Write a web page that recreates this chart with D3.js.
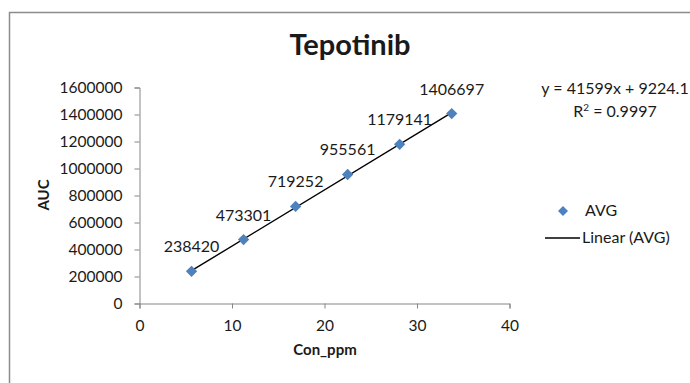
<!DOCTYPE html>
<html>
<head>
<meta charset="utf-8">
<script src="https://cdn.jsdelivr.net/npm/d3@7"></script>
<style>
  html, body { margin: 0; padding: 0; background: #fff; }
  svg { display: block; }
  text { font-family: Lato, "Open Sans", sans-serif; fill: #1a1a1a; }
</style>
</head>
<body>
<svg id="chart" width="690" height="383"></svg>
<script>
// Calibration data: concentration (ppm) vs mean peak area
const concPpm = [5.625, 11.25, 16.875, 22.5, 28.125, 33.75];
const aucAvg = [238420, 473301, 719252, 955561, 1179141, 1406697];
const xTicks = [0, 10, 20, 30, 40];
const yTicks = [0, 200000, 400000, 600000, 800000, 1000000, 1200000, 1400000, 1600000];
// Fitted linear trendline
const slope = 41599;
const intercept = 9224.1;
const rSquared = "0.9997";

const svg = d3.select("#chart");

// Outer chart frame
svg.append("rect")
  .attr("x", 9.5).attr("y", 12.5)
  .attr("width", 700).attr("height", 400)
  .attr("fill", "none").attr("stroke", "#8c8c8c").attr("stroke-width", 1.5);

const x = d3.scaleLinear().domain([0, 40]).range([139.5, 509.5]);
const y = d3.scaleLinear().domain([0, 1600000]).range([303.5, 87.5]);

// Title
svg.append("text")
  .attr("x", 350).attr("y", 55)
  .attr("text-anchor", "middle")
  .style("font-size", "29px").style("font-weight", "bold")
  .text("Tepotinib");

// Axes
const axisColor = "#868686";
const yAxis = svg.append("g")
  .attr("transform", `translate(${x(0)},0)`)
  .call(d3.axisLeft(y).tickValues(yTicks).tickFormat(d3.format("d")).tickSize(5).tickPadding(12));
const xAxis = svg.append("g")
  .attr("transform", `translate(0,${y(0)})`)
  .call(d3.axisBottom(x).tickValues(xTicks).tickFormat(d3.format("d")).tickSize(5).tickPadding(11));
[xAxis, yAxis].forEach(g => {
  g.select(".domain").attr("stroke", axisColor);
  g.selectAll(".tick line").attr("stroke", axisColor);
  g.selectAll(".tick text")
    .style("font-family", "Lato, 'Open Sans', sans-serif")
    .style("font-size", "15.5px").attr("fill", "#1a1a1a");
});

// Axis titles
svg.append("text")
  .attr("transform", "translate(49,195) rotate(-90)")
  .attr("text-anchor", "middle")
  .style("font-size", "15px").style("font-weight", "bold")
  .text("AUC");
svg.append("text")
  .attr("x", 325).attr("y", 355)
  .attr("text-anchor", "middle")
  .style("font-size", "15px").style("font-weight", "bold")
  .text("Con_ppm");

// Trendline across the fitted range
const xMin = d3.min(concPpm), xMax = d3.max(concPpm);
svg.append("line")
  .attr("x1", x(xMin)).attr("y1", y(slope * xMin + intercept))
  .attr("x2", x(xMax)).attr("y2", y(slope * xMax + intercept))
  .attr("stroke", "#000").attr("stroke-width", 1.4);

// Markers (diamonds)
const pts = concPpm.map((c, i) => ({ c, v: aucAvg[i] }));
svg.append("g").selectAll("path")
  .data(pts).join("path")
  .attr("d", d3.symbol().type(d3.symbolSquare).size(64))
  .attr("transform", d => `translate(${x(d.c)},${y(d.v)}) rotate(45)`)
  .attr("fill", "#4f81bd");

// Data labels
svg.append("g").selectAll("text")
  .data(pts).join("text")
  .attr("x", d => x(d.c)).attr("y", d => y(d.v) - 19)
  .attr("text-anchor", "middle")
  .style("font-size", "16px")
  .text(d => d.v);

// Equation and R²
svg.append("text")
  .attr("x", 615).attr("y", 94)
  .attr("text-anchor", "middle")
  .style("font-size", "16px")
  .text(`y = ${slope}x + ${intercept}`);
const r2 = svg.append("text")
  .attr("x", 615).attr("y", 117)
  .attr("text-anchor", "middle")
  .style("font-size", "16px");
r2.append("tspan").text("R");
r2.append("tspan").attr("dy", -6).style("font-size", "10px").text("2");
r2.append("tspan").attr("dy", 6).text(` = ${rSquared}`);

// Legend
const legend = svg.append("g");
legend.append("path")
  .attr("d", d3.symbol().type(d3.symbolSquare).size(50))
  .attr("transform", "translate(563,211) rotate(45)")
  .attr("fill", "#4f81bd");
legend.append("text").attr("x", 585).attr("y", 216)
  .style("font-size", "16px").text("AVG");
legend.append("line")
  .attr("x1", 545).attr("x2", 580).attr("y1", 238).attr("y2", 238)
  .attr("stroke", "#000").attr("stroke-width", 1.4);
legend.append("text").attr("x", 582).attr("y", 243)
  .style("font-size", "16px").text("Linear (AVG)");
</script>
</body>
</html>
